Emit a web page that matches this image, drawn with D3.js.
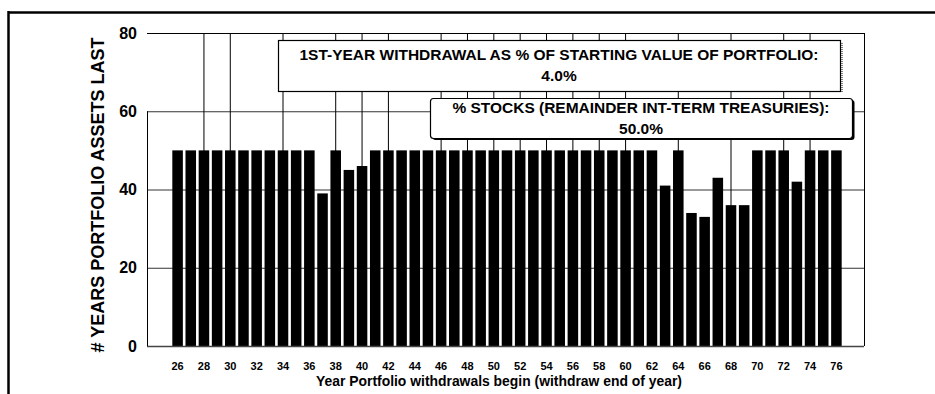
<!DOCTYPE html>
<html>
<head>
<meta charset="utf-8">
<script src="https://cdn.jsdelivr.net/npm/d3@7"></script>
<style>
  body { margin: 0; background: #fff; }
  svg { display: block; font-family: "Liberation Sans", Arial, sans-serif; }
</style>
</head>
<body>
<svg id="chart" width="935" height="394"></svg>
<script>
// data
const years = d3.range(1926, 1977);
const yearsLasted = [
  50, 50, 50, 50, 50, 50, 50, 50, 50, 50, // 26-35
  50, 39, 50, 45, 46, 50, 50, 50, 50, 50, // 36-45
  50, 50, 50, 50, 50, 50, 50, 50, 50, 50, // 46-55
  50, 50, 50, 50, 50, 50, 50, 41, 50, 34, // 56-65
  33, 43, 36, 36, 50, 50, 50, 42, 50, 50, // 66-75
  50                                      // 76
];
const xTickYears = d3.range(1926, 1977, 2);
const yTicks = [0, 20, 40, 60, 80];
const gridYears = [1928, 1930, 1934, 1938, 1940, 1942, 1946, 1948, 1950, 1952, 1954, 1956, 1958, 1960, 1964, 1968, 1972, 1974];
const note1 = ["1ST-YEAR WITHDRAWAL AS % OF STARTING VALUE OF PORTFOLIO:", "4.0%"];
const note2 = ["% STOCKS (REMAINDER INT-TERM TREASURIES):", "50.0%"];

const svg = d3.select("#chart");
const plotL = 147, plotR = 864, plotT = 33, plotB = 346;

const x = d3.scaleBand()
  .domain(years)
  .range([plotL + 24, plotR - 21])
  .paddingInner(0.2)
  .paddingOuter(0.1);

const y = d3.scaleLinear().domain([0, 80]).range([plotB, plotT]);

//gridlines
svg.selectAll(".hgrid")
  .data([20, 40, 60])
  .enter().append("line")
  .attr("x1", plotL).attr("x2", plotR)
  .attr("y1", d => y(d) + 0.5).attr("y2", d => y(d) + 0.5)
  .attr("stroke", "#333").attr("stroke-width", 1);

svg.selectAll(".vgrid")
  .data(gridYears)
  .enter().append("line")
  .attr("x1", d => x(d) + x.bandwidth() / 2).attr("x2", d => x(d) + x.bandwidth() / 2)
  .attr("y1", plotT).attr("y2", plotB)
  .attr("stroke", "#000").attr("stroke-width", 1);

//bars
svg.selectAll(".bar")
  .data(years)
  .enter().append("rect")
  .attr("x", d => x(d))
  .attr("width", x.bandwidth())
  .attr("y", (d, i) => y(yearsLasted[i]))
  .attr("height", (d, i) => y(0) - y(yearsLasted[i]))
  .attr("fill", "#000");

//plot frame (left side only from 60 down, like the scan)
svg.append("line").attr("x1", plotL).attr("x2", plotR).attr("y1", plotT + 0.5).attr("y2", plotT + 0.5).attr("stroke", "#000");
svg.append("line").attr("x1", plotL).attr("x2", plotR).attr("y1", plotB + 0.5).attr("y2", plotB + 0.5).attr("stroke", "#444").attr("stroke-width", 1.5);
svg.append("line").attr("x1", plotL + 0.5).attr("x2", plotL + 0.5).attr("y1", y(60)).attr("y2", plotB).attr("stroke", "#000");
svg.append("line").attr("x1", plotR + 0.5).attr("x2", plotR + 0.5).attr("y1", plotT).attr("y2", plotB).attr("stroke", "#000");

//note boxes
function noteBox(x0, y0, x1, y1, lines, base1, base2, width1, heavy) {
  const g = svg.append("g");
  if (heavy) {
    g.append("rect")
      .attr("x", x0 + 2.5).attr("y", y0 + 2)
      .attr("width", x1 - x0).attr("height", y1 - y0)
      .attr("rx", 3).attr("fill", "#000");
  } else {
    g.append("line")
      .attr("x1", x1 + 2).attr("x2", x1 + 2).attr("y1", y0 + 3).attr("y2", y1 + 1)
      .attr("stroke", "#000").attr("stroke-dasharray", "1,1");
  }
  g.append("rect")
    .attr("x", x0 + 0.5).attr("y", y0 + 0.5)
    .attr("width", x1 - x0).attr("height", y1 - y0)
    .attr("rx", heavy ? 3 : 0)
    .attr("fill", "#fff").attr("stroke", "#000").attr("stroke-width", 1.2);
  const cx = (x0 + x1) / 2;
  g.append("text").attr("x", cx).attr("y", base1).attr("text-anchor", "middle")
    .attr("textLength", width1).attr("lengthAdjust", "spacingAndGlyphs")
    .style("font-size", "15px").style("font-weight", "bold").text(lines[0]);
  g.append("text").attr("x", cx).attr("y", base2).attr("text-anchor", "middle")
    .style("font-size", "15.5px").style("font-weight", "bold").text(lines[1]);
}
noteBox(278, 40, 840, 91, note1, 60, 81, 519, false);
noteBox(430, 98, 852, 138, note2, 113, 134, 377, true);

//y axis labels
const yAxis = svg.append("g")
  .attr("transform", `translate(${plotL},0)`)
  .call(d3.axisLeft(y).tickValues(yTicks).tickSize(0).tickPadding(10));
yAxis.select(".domain").remove();
yAxis.selectAll("text")
  .style("font-size", "16px").style("font-weight", "bold")
  .style("font-family", "'Liberation Sans', Arial, sans-serif").attr("fill", "#000");

//x axis labels
const xAxis = svg.append("g")
  .attr("transform", `translate(0,${plotB})`)
  .call(d3.axisBottom(x).tickValues(xTickYears).tickSize(0).tickPadding(16)
    .tickFormat(d => String(d).slice(2)));
xAxis.select(".domain").remove();
xAxis.selectAll("text")
  .style("font-size", "11px").style("font-weight", "bold")
  .style("font-family", "'Liberation Sans', Arial, sans-serif").attr("fill", "#000");

//axis titles
svg.append("text")
  .attr("transform", "translate(104,195) rotate(-90)")
  .attr("text-anchor", "middle")
  .attr("textLength", 315).attr("lengthAdjust", "spacingAndGlyphs")
  .style("font-size", "17.5px").style("font-weight", "bold")
  .text("# YEARS PORTFOLIO ASSETS LAST");

svg.append("text")
  .attr("x", 499).attr("y", 386)
  .attr("text-anchor", "middle")
  .attr("textLength", 366).attr("lengthAdjust", "spacingAndGlyphs")
  .style("font-size", "14px").style("font-weight", "bold")
  .text("Year Portfolio withdrawals begin (withdraw end of year)");

//outer frame
svg.append("line").attr("x1", 8).attr("x2", 935).attr("y1", 12.5).attr("y2", 12.5).attr("stroke", "#000").attr("stroke-width", 2.5);
svg.append("line").attr("x1", 8.5).attr("x2", 8.5).attr("y1", 11).attr("y2", 394).attr("stroke", "#000").attr("stroke-width", 2.5);
</script>
</body>
</html>
